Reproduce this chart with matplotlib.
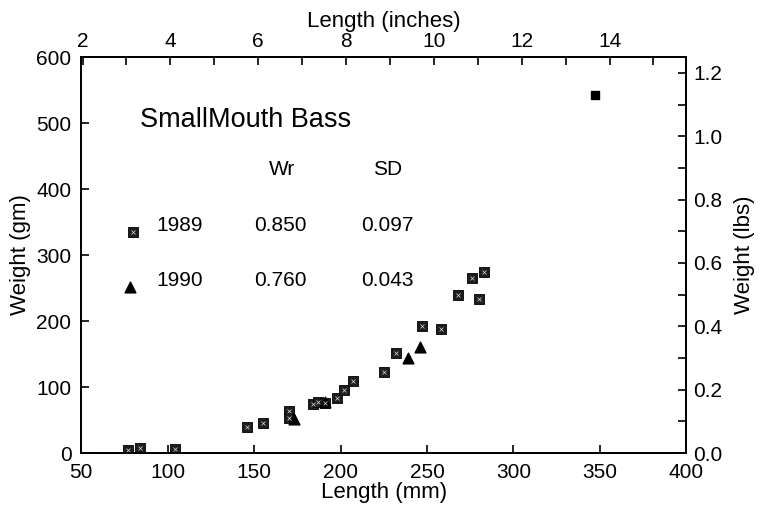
import matplotlib
matplotlib.use("Agg")
import matplotlib.pyplot as plt
import numpy as np

plt.rcParams['font.family'] = ['Liberation Sans', 'DejaVu Sans']

# 1989 fish: length (mm), weight (gm)
len_1989 = [77, 84, 104, 146, 155, 170, 170, 184, 187, 191, 198, 202, 207,
            225, 232, 247, 258, 268, 276, 280, 283]
wt_1989 = [5, 8, 6, 40, 45, 64, 53, 74, 77, 76, 83, 95, 109,
           123, 152, 192, 188, 239, 265, 233, 274]
# 1990 fish
len_1990 = [173, 191, 239, 246]
wt_1990 = [51, 77, 144, 161]
# the big outlier
len_big = [347]
wt_big = [542]

years = ['1989', '1990']
wr_vals = ['0.850', '0.760']
sd_vals = ['0.097', '0.043']

fig = plt.figure(figsize=(7.66, 5.07), dpi=100)
ax = fig.add_axes([0.106, 0.1065, 0.79, 0.781])

sq = dict(marker='s', s=45, facecolor='#1e1e1e', edgecolor='black', linewidths=0.6, zorder=3)
dots = dict(marker='x', s=8, color='#dddddd', linewidths=0.5, zorder=4)
ax.scatter(len_1989, wt_1989, **sq)
ax.scatter(len_1989, wt_1989, **dots)
ax.scatter(len_1990, wt_1990, marker='^', s=60, color='black', zorder=3)
ax.scatter(len_big, wt_big, marker='s', s=28, color='black', zorder=3)

ax.set_xlim(50, 400)
ax.set_ylim(0, 600)
ax.set_xticks(np.arange(50, 401, 50))
ax.set_yticks(np.arange(0, 601, 100))
ax.set_xlabel("Length (mm)", fontsize=16, labelpad=0)
ax.set_ylabel("Weight (gm)", fontsize=16, labelpad=4)
ax.tick_params(direction='in', length=6, width=1.2, labelsize=15, pad=7)

# top axis in inches
top = ax.secondary_xaxis('top', functions=(lambda x: x / 25.4, lambda x: x * 25.4))
top.set_xticks(np.arange(2, 15, 2))
top.set_xticks(np.arange(3, 16, 2), minor=True)
top.tick_params(which='both', direction='in', length=6, width=1.2, labelsize=15, pad=4)
top.set_xlabel("Length (inches)", fontsize=16, labelpad=4)

# right axis in lbs
ax2 = ax.twinx()
ax2.set_ylim(0, 1.25)
ax2.set_yticks(np.arange(0, 1.21, 0.2))
ax2.set_yticks(np.arange(0.1, 1.25, 0.2), minor=True)
ax2.set_yticklabels([f"{v:.1f}" for v in np.arange(0, 1.21, 0.2)])
ax2.tick_params(which='both', direction='in', length=6, width=1.2, labelsize=15, pad=5)
ax2.set_ylabel("Weight (lbs)", fontsize=16, labelpad=8)

for a in (ax, ax2):
    for sp in a.spines.values():
        sp.set_linewidth(1.3)
top.spines['top'].set_linewidth(1.3)

# text block
ax.text(84, 505, "SmallMouth Bass", fontsize=19.5, ha='left', va='center')
ax.text(166, 429, "Wr", fontsize=15, ha='center', va='center')
ax.text(227, 429, "SD", fontsize=15, ha='center', va='center')
row_y = [345, 262]
for yr, wr, sd, ry in zip(years, wr_vals, sd_vals, row_y):
    ax.text(107, ry, yr, fontsize=15, ha='center', va='center')
    ax.text(165, ry, wr, fontsize=15, ha='center', va='center')
    ax.text(227, ry, sd, fontsize=15, ha='center', va='center')
ax.scatter([80], [335], **sq)
ax.scatter([80], [335], **dots)
ax.scatter([78], [252], marker='^', s=60, color='black', zorder=3)

fig.savefig("out.png", dpi=100)
